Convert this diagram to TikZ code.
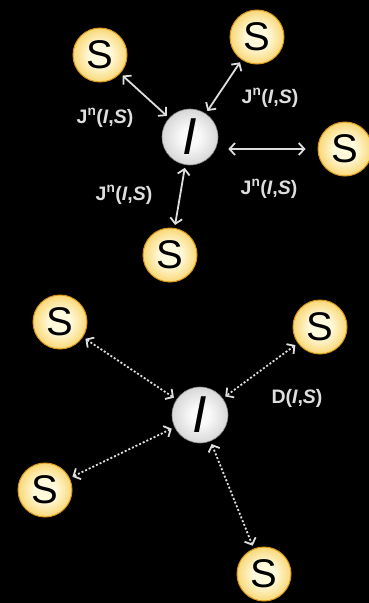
\documentclass[tikz,border=0pt]{standalone}
\usepackage{fontspec}
\setmainfont{Liberation Sans}
\usetikzlibrary{arrows.meta}
\definecolor{sedge}{RGB}{245,190,45}
\definecolor{scenter}{RGB}{255,250,220}
\definecolor{sring}{RGB}{215,150,25}
\definecolor{iedge}{RGB}{165,165,165}
\definecolor{icenter}{RGB}{250,250,250}
\definecolor{txt}{RGB}{222,222,222}
\pgfdeclareradialshading{sball}{\pgfpoint{0bp}{0bp}}{color(0bp)=(scenter); color(10bp)=(scenter); color(36bp)=(sedge); color(50bp)=(sedge)}
\pgfdeclareradialshading{iball}{\pgfpoint{0bp}{0bp}}{color(0bp)=(icenter); color(8bp)=(icenter); color(50bp)=(iedge)}
\begin{document}
\begin{tikzpicture}[x=1pt,y=-1pt,
  snode/.style={circle, minimum size=54pt, inner sep=0pt, shading=sball, draw=sring, line width=1pt, font=\fontsize{40}{40}\selectfont, text=black},
  inode/.style={circle, minimum size=56pt, inner sep=0pt, shading=iball, draw=iedge!80!black, line width=0.6pt, font=\fontsize{52}{52}\selectfont\itshape, text=black},
  lbl/.style={text=txt, font=\fontsize{19.5}{19.5}\selectfont\bfseries, inner sep=0pt},
  link/.style={draw=txt, line width=1.8pt, {Straight Barb[length=5.5pt,width=12pt]}-{Straight Barb[length=5.5pt,width=12pt]}, shorten <=3pt, shorten >=3pt},
  dlink/.style={link, dash pattern=on 2pt off 2pt}
]
\fill[black] (0,0) rectangle (369,603);
\useasboundingbox (0,0) rectangle (369,603);

% top group
\node[inode] (I1) at (190,137) {I};
\node[snode] (S1) at (100,55) {S};
\node[snode] (S2) at (257,37) {S};
\node[snode] (S3) at (345,149) {S};
\node[snode] (S4) at (170,255) {S};

\draw[link] (S1) -- (I1);
\draw[link] (S2) -- (I1);
\draw[link, shorten <=10pt, shorten >=12pt] (S3.west -| I1.east) -- (S3.west);
\draw[link] (I1) -- (S4);

\node[lbl] (L1) at (105,118) {J\textsuperscript{n}(\textit{I},\textit{S})};
\node[lbl] (L2) at (270,98) {J\textsuperscript{n}(\textit{I},\textit{S})};
\node[lbl] (L3) at (269,189) {J\textsuperscript{n}(\textit{I},\textit{S})};
\node[lbl] (L4) at (124,195) {J\textsuperscript{n}(\textit{I},\textit{S})};

% bottom group
\node[inode] (I2) at (200,415) {I};
\node[snode] (S5) at (60,322) {S};
\node[snode] (S6) at (320,327) {S};
\node[snode] (S7) at (45,490) {S};
\node[snode] (S8) at (264,574) {S};

\draw[dlink] (S5) -- (I2);
\draw[dlink] (S6) -- (I2);
\draw[dlink] (S7) -- (I2);
\draw[dlink] (I2) -- (S8);

\node[lbl] (L5) at (297,398) {D(\textit{I},\textit{S})};
\end{tikzpicture}
\end{document}
